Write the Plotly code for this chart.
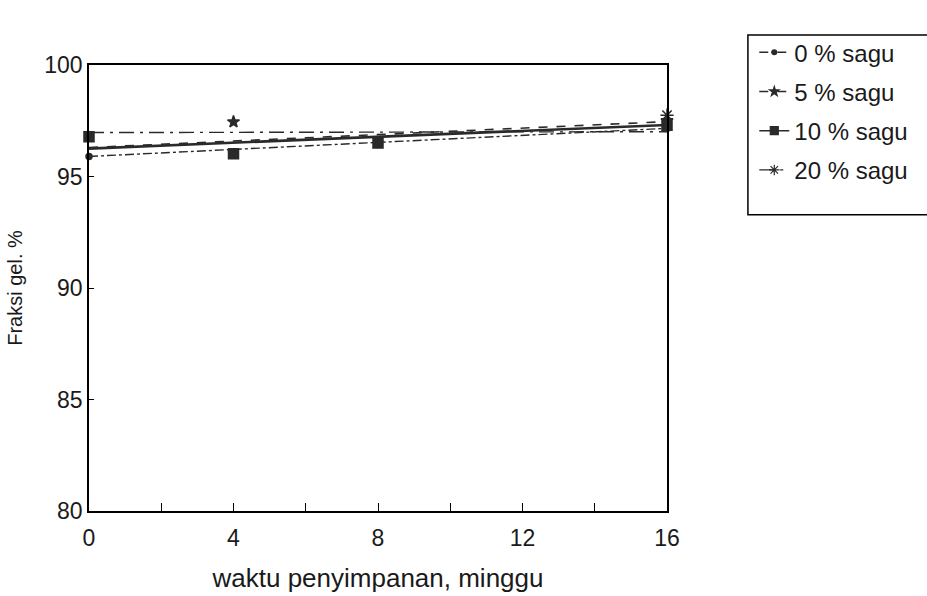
import plotly.graph_objects as go

# ---- data ----
series_names = ["0 % sagu", "5 % sagu", "10 % sagu", "20 % sagu"]

# measured points (weeks, gel fraction %)
x_0 = [0, 16]
y_0 = [95.9, 97.15]
x_5 = [4, 16]
y_5 = [97.45, 97.5]
x_10 = [0, 4, 8, 16]
y_10 = [96.78, 96.02, 96.5, 97.3]
x_20 = [16]
y_20 = [97.75]

# fitted trend lines (value at week 0 and week 16)
fit_x = [0, 16]
fit_0 = [95.9, 97.16]
fit_5 = [96.3, 97.46]
fit_10 = [96.25, 97.31]
fit_20 = [96.97, 97.01]

x_tickvals = [0, 2, 4, 6, 8, 10, 12, 14, 16]
x_ticktext = ["0", "", "4", "", "8", "", "12", "", "16"]
y_tickvals = [80, 85, 90, 95, 100]

ink = "#2a2a2a"
styles = [
    dict(dash="dashdot", width=1.4, symbol="circle", size=6),
    dict(dash="dash", width=1.6, symbol="star", size=9),
    dict(dash="solid", width=2.6, symbol="square", size=10),
    dict(dash="longdashdot", width=1.4, symbol="asterisk-open", size=11),
]
pts = [(x_0, y_0), (x_5, y_5), (x_10, y_10), (x_20, y_20)]
fits = [fit_0, fit_5, fit_10, fit_20]

fig = go.Figure()
for i, name in enumerate(series_names):
    st = styles[i]
    fig.add_trace(go.Scatter(
        x=fit_x, y=fits[i], mode="lines", showlegend=False,
        line=dict(color=ink, dash=st["dash"], width=st["width"]),
        legendgroup=name, cliponaxis=False))
    fig.add_trace(go.Scatter(
        x=pts[i][0], y=pts[i][1], mode="markers", showlegend=False,
        marker=dict(color=ink, symbol=st["symbol"], size=st["size"],
                    line=dict(color=ink, width=1.5)),
        legendgroup=name, cliponaxis=False))
    fig.add_trace(go.Scatter(
        x=[None], y=[None], mode="lines+markers", name=name,
        line=dict(color=ink, dash=st["dash"], width=1.4),
        marker=dict(color=ink, symbol=st["symbol"], size=st["size"] * 0.8,
                    line=dict(color=ink, width=1.2)),
        legendgroup=name))

font = "Liberation Sans, Arial, sans-serif"
fig.update_layout(
    width=927, height=596,
    margin=dict(l=89, r=260, t=65, b=85, autoexpand=False),
    paper_bgcolor="white", plot_bgcolor="white",
    font=dict(family=font, color="#1a1a1a", size=23),
    showlegend=True,
    legend=dict(
        x=1.151, y=1.078, xanchor="left", yanchor="top",
        font=dict(size=24, family=font),
        bgcolor="rgba(0,0,0,0)", borderwidth=0,
        traceorder="grouped", tracegroupgap=5,
        itemwidth=30,
    ),
    xaxis=dict(
        range=[0, 16], tickvals=x_tickvals, ticktext=x_ticktext,
        ticks="inside", ticklen=8, tickcolor="black", tickwidth=1,
        showline=True, linecolor="black", linewidth=1.5, mirror=True,
        showgrid=False, zeroline=False, automargin=False,
        tickfont=dict(size=23), ticklabelstandoff=6,
        title=dict(text="waktu penyimpanan, minggu", font=dict(size=26), standoff=18),
    ),
    yaxis=dict(
        range=[80, 100], tickvals=y_tickvals,
        ticks="inside", ticklen=5, tickcolor="black", tickwidth=1,
        showline=True, linecolor="black", linewidth=1.5, mirror=True,
        showgrid=False, zeroline=False, automargin=False,
        tickfont=dict(size=23),
        title=dict(text="Fraksi gel. %", font=dict(size=20), standoff=16),
    ),
    shapes=[dict(type="rect", xref="paper", yref="paper",
                 x0=1.14, x1=1.47, y0=0.664, y1=1.067,
                 line=dict(color="black", width=1.5), fillcolor="rgba(0,0,0,0)")],
)

fig.write_html("out.html")
